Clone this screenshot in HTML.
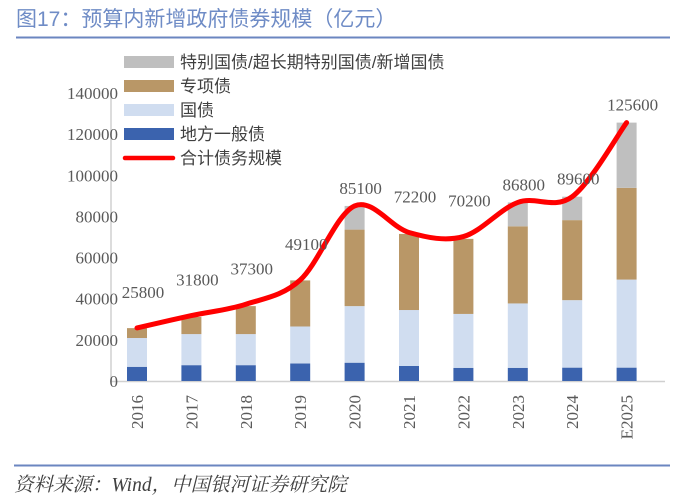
<!DOCTYPE html>
<html><head><meta charset="utf-8"><style>
html,body{margin:0;padding:0;background:#fff;}
svg{display:block;}
</style></head><body>
<svg id="chart" width="688" height="498" xmlns="http://www.w3.org/2000/svg">
<text x="16" y="26" font-family="'Liberation Sans','Noto Sans CJK SC',sans-serif" font-size="21" fill="#6f8cc6">图17：预算内新增政府债券规模（亿元）</text>
<line x1="16" y1="37.5" x2="670" y2="37.5" stroke="#6b86c0" stroke-width="2"/>
<line x1="14" y1="465.5" x2="670" y2="465.5" stroke="#6b86c0" stroke-width="2"/>
<text x="14" y="491" font-family="'Liberation Serif','Noto Serif CJK SC',serif" font-style="italic" font-size="19.5" fill="#404040">资料来源：Wind，中国银河证券研究院</text>
<g id="axes"></g>
<g id="bars"></g>
<g id="line"></g>
<g id="legend"></g>
</svg>
<script>
const categories = ["2016","2017","2018","2019","2020","2021","2022","2023","2024","E2025"];
const localGeneral = [6900,7700,7700,8500,8900,7300,6400,6400,6500,6500];
const treasury = [14000,15100,15100,18000,27500,27200,26200,31300,32800,42800];
const special = [4800,8300,13600,22400,37200,37000,36500,37500,38900,44600];
const specialTreasury = [0,0,0,0,11500,0,0,11600,11400,31700];
const totals = [25800,31800,37300,49100,85100,72200,70200,86800,89600,125600];
const yTicks = [0,20000,40000,60000,80000,100000,120000,140000];

const NS="http://www.w3.org/2000/svg";
const X0=111, X1=665, Y0=381, YTOP=93, YMAX=140000;
const step=(X1-X0-10)/categories.length;
function xScale(i){return X0+26+i*step;}
function yScale(v){return Y0-(v/YMAX)*(Y0-YTOP);}
function mk(tag,attrs,parent){const e=document.createElementNS(NS,tag);for(const k in attrs)e.setAttribute(k,attrs[k]);parent.appendChild(e);return e;}
const axes=document.getElementById('axes');
const serif="'Liberation Serif',serif";
let yl=mk('line',{x1:X0,y1:YTOP,x2:X0,y2:Y0,stroke:'#d0d0d0','stroke-width':1.5},axes);


let xl=mk('line',{x1:X0,y1:Y0+0.5,x2:X1,y2:Y0+0.5,stroke:'#d0d0d0','stroke-width':1.5},axes);


yTicks.forEach(v=>{
  const t=mk('text',{x:118,y:yScale(v)+6,'text-anchor':'end','font-family':serif,'font-size':17,fill:'#595959'},axes);
  t.textContent=v;
  
  
});
categories.forEach((c,i)=>{
  const x=xScale(i);
  const t=mk('text',{x:0,y:0,transform:`translate(${x+6},395) rotate(-90)`,'text-anchor':'end','font-family':serif,'font-size':17,fill:'#595959'},axes);
  t.textContent=c;
  
  
});
const bars=document.getElementById('bars');
const series=[[localGeneral,'#3b63ae','bar-local-general'],[treasury,'#d0ddf0','bar-treasury'],[special,'#b99767','bar-special'],[specialTreasury,'#bfbfbf','bar-special-treasury']];
const BW=20;
categories.forEach((c,i)=>{
  let acc=0;
  series.forEach(s=>{
    const v=s[0][i]; if(!v) return;
    const r=mk('rect',{x:xScale(i)-BW/2,y:yScale(acc+v),width:BW,height:yScale(acc)-yScale(acc+v),fill:s[1]},bars);
    
    
    acc+=v;
  });
});
const lineG=document.getElementById('line');
const pts=totals.map((v,i)=>[xScale(i),yScale(v)]);
let d=`M${pts[0][0]},${pts[0][1]}`;
for(let i=0;i<pts.length-1;i++){
  const p0=pts[Math.max(0,i-1)],p1=pts[i],p2=pts[i+1],p3=pts[Math.min(pts.length-1,i+2)];
  const t=1/6;
  d+=` C${p1[0]+(p2[0]-p0[0])*t},${p1[1]+(p2[1]-p0[1])*t} ${p2[0]-(p3[0]-p1[0])*t},${p2[1]-(p3[1]-p1[1])*t} ${p2[0]},${p2[1]}`;
}
const path=mk('path',{d:d,fill:'none',stroke:'#ff0000','stroke-width':5,'stroke-linecap':'round'},lineG);


totals.forEach((v,i)=>{
  const off=v>80000?-12:-30;
  const t=mk('text',{x:xScale(i)+6,y:yScale(v)+off,'text-anchor':'middle','font-family':serif,'font-size':17,fill:'#595959'},lineG);
  t.textContent=v;
  
  
});
const legend=document.getElementById('legend');
const items=[['#bfbfbf','特别国债/超长期特别国债/新增国债','rect'],['#b99767','专项债','rect'],['#d0ddf0','国债','rect'],['#3b63ae','地方一般债','rect'],['#ff0000','合计债务规模','line']];
items.forEach((it,i)=>{
  const cy=62+i*24;
  const g=mk('g',{},legend);
  
  
  if(it[2]==='rect') mk('rect',{x:124,y:cy-6,width:50,height:12,fill:it[0]},g);
  else mk('line',{x1:125,y1:cy,x2:173,y2:cy,stroke:it[0],'stroke-width':4.5,'stroke-linecap':'round'},g);
  const t=mk('text',{x:180,y:cy+6,'font-family':"'Liberation Sans','Noto Sans CJK SC',sans-serif",'font-size':17,fill:'#404040'},g);
  t.textContent=it[1];
});
</script>
</body></html>
